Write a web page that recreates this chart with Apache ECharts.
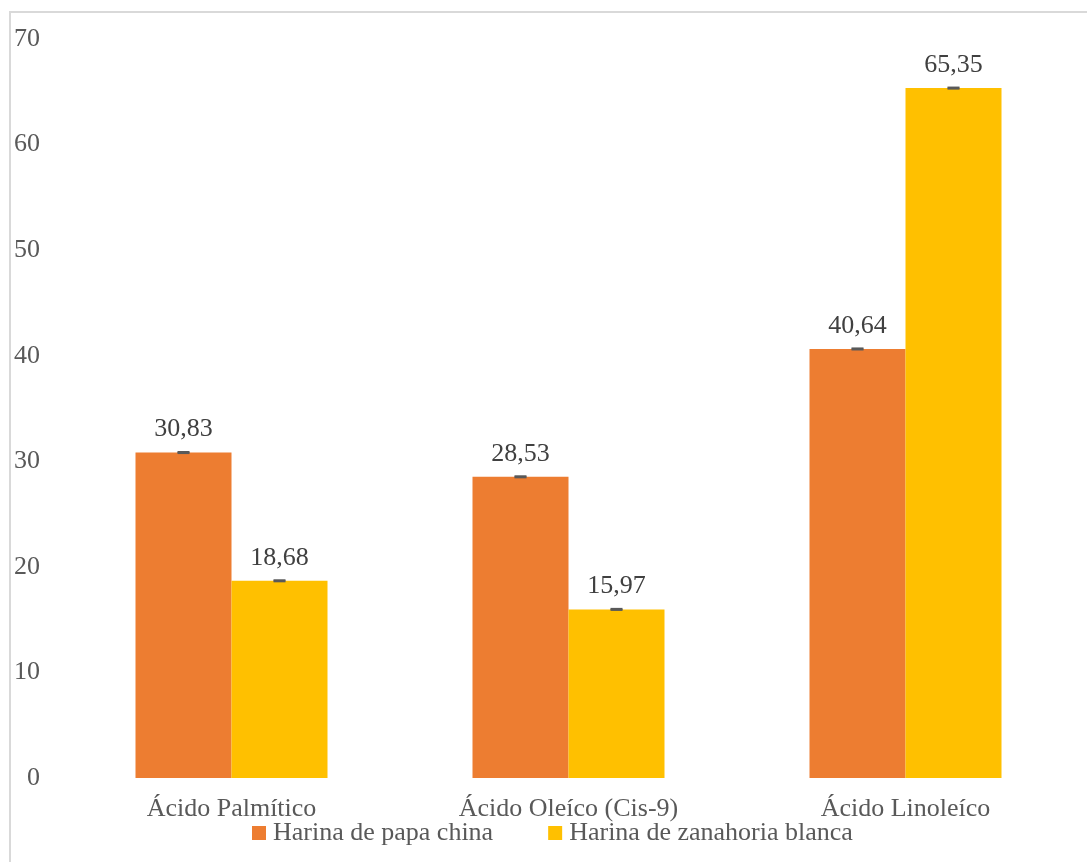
<!DOCTYPE html>
<html>
<head>
<meta charset="utf-8">
<style>
  html, body { margin: 0; padding: 0; background: #ffffff; }
  #frame { position: absolute; left: 9px; top: 11px; width: 1100px; height: 880px; border: 2px solid #d9d9d9; box-sizing: border-box; }
  #chart { position: absolute; left: 0; top: 0; width: 1087px; height: 862px; }
</style>
<script src="https://cdn.jsdelivr.net/npm/echarts@6/dist/echarts.min.js"></script>
</head>
<body>
<div id="frame"></div>
<div id="chart"></div>
<script>
// Fatty acid composition (%) of the two flours
const categories = ['Ácido Palmítico', 'Ácido Oleíco (Cis-9)', 'Ácido Linoleíco'];
const seriesNames = ['Harina de papa china', 'Harina de zanahoria blanca'];
const papaChina = [30.83, 28.53, 40.64];
const zanahoriaBlanca = [18.68, 15.97, 65.35];
// Standard deviations (very small)
const papaChinaErr = [0.05, 0.05, 0.05];
const zanahoriaBlancaErr = [0.05, 0.05, 0.05];
const yTicks = [0, 10, 20, 30, 40, 50, 60, 70];

const FONT = '"Liberation Serif", "Times New Roman", serif';
const FS = 26;
const BAR_W = 96;

function fmt(v) { return v.toFixed(2).replace('.', ','); }

function errorSeries(values, errs, side) {
  return {
    type: 'custom',
    z: 5,
    silent: true,
    data: values.map((v, i) => [i, v, errs[i]]),
    renderItem: function (params, api) {
      const i = api.value(0), v = api.value(1), e = api.value(2);
      const c = api.coord([i, v]);
      const x = c[0] + side * BAR_W / 2;
      const top = api.coord([i, v + e])[1];
      const bot = api.coord([i, v - e])[1];
      const half = 6;
      const style = { stroke: '#595959', lineWidth: 2 };
      return {
        type: 'group',
        children: [
          { type: 'line', shape: { x1: x, y1: top, x2: x, y2: bot }, style },
          { type: 'line', shape: { x1: x - half, y1: top, x2: x + half, y2: top }, style },
          { type: 'line', shape: { x1: x - half, y1: bot, x2: x + half, y2: bot }, style }
        ]
      };
    }
  };
}

const chart = echarts.init(document.getElementById('chart'), null, { renderer: 'canvas' });
chart.setOption({
  backgroundColor: 'transparent',
  animation: false,
  textStyle: { fontFamily: FONT },
  grid: { left: 63, right: 13, top: 39, bottom: 84, containLabel: false },
  legend: {
    data: seriesNames,
    left: 247,
    top: 815,
    icon: 'rect',
    itemWidth: 14,
    itemHeight: 14,
    itemGap: 55,
    textStyle: { fontFamily: FONT, fontSize: FS, color: '#595959', padding: [0, 0, 0, 2] }
  },
  xAxis: {
    type: 'category',
    data: categories,
    axisLine: { show: false },
    axisTick: { show: false },
    axisLabel: { fontFamily: FONT, fontSize: FS, color: '#595959', margin: 18 }
  },
  yAxis: {
    type: 'value',
    min: 0,
    max: 70,
    interval: 10,
    splitLine: { show: false },
    axisLine: { show: false },
    axisTick: { show: false },
    axisLabel: {
      fontFamily: FONT, fontSize: FS, color: '#595959', margin: 23,
      formatter: v => (yTicks.includes(v) ? String(v) : '')
    }
  },
  series: [
    {
      name: seriesNames[0],
      type: 'bar',
      data: papaChina,
      barWidth: BAR_W,
      barGap: '0%',
      itemStyle: { color: '#ED7D31' },
      label: {
        show: true, position: 'top', distance: 10,
        fontFamily: FONT, fontSize: FS, color: '#404040',
        formatter: p => fmt(p.value)
      }
    },
    {
      name: seriesNames[1],
      type: 'bar',
      data: zanahoriaBlanca,
      barWidth: BAR_W,
      barGap: '0%',
      itemStyle: { color: '#FFC000' },
      label: {
        show: true, position: 'top', distance: 10,
        fontFamily: FONT, fontSize: FS, color: '#404040',
        formatter: p => fmt(p.value)
      }
    },
    errorSeries(papaChina, papaChinaErr, -1),
    errorSeries(zanahoriaBlanca, zanahoriaBlancaErr, 1)
  ]
});
</script>
</body>
</html>
